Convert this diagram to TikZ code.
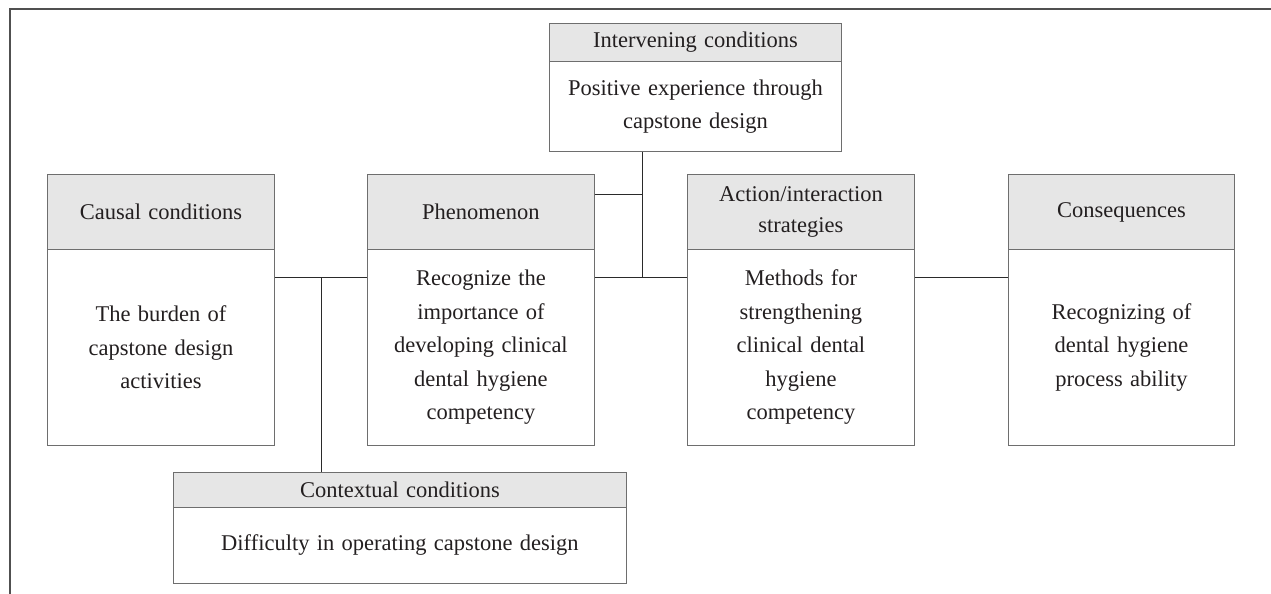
\documentclass[tikz,border=0pt]{standalone}
\usepackage{fontspec}
\setmainfont{Liberation Serif}[WordSpace=1.3]
\definecolor{boxline}{HTML}{6E6E6E}
\definecolor{headfill}{HTML}{E6E6E6}
\definecolor{linecol}{HTML}{2A2A2A}
\definecolor{framecol}{HTML}{505050}
\definecolor{txt}{HTML}{231F20}
\begin{document}
\begin{tikzpicture}[x=1pt,y=-1pt,
  head/.style={draw=boxline, fill=headfill, line width=0.9pt, anchor=north west,
    inner sep=0pt, align=center, text=txt, font=\fontsize{22.5}{31}\selectfont},
  body/.style={draw=boxline, line width=0.9pt, anchor=north west,
    inner sep=0pt, align=center, text=txt, font=\fontsize{22.5}{33.5}\selectfont},
  link/.style={draw=linecol, line width=1pt},
  frame/.style={draw=framecol, line width=1.6pt}]
\useasboundingbox (0,0) rectangle (1271,594);
% frame
\draw[frame] (10,594) -- (10,9) -- (1271,9);
% intervening
\node[head, minimum width=292pt, minimum height=38pt] (interH) at (549,23) {Intervening conditions};
\node[body, minimum width=292pt, minimum height=90pt] (interB) at (549,61) {Positive experience through\\capstone design};
% causal
\node[head, minimum width=227pt, minimum height=75pt] (causalH) at (47,174) {Causal conditions};
\node[body, minimum width=227pt, minimum height=196pt] (causalB) at (47,249) {The burden of\\capstone design\\activities};
% phenomenon
\node[head, minimum width=227pt, minimum height=75pt] (phenH) at (367,174) {Phenomenon};
\node[body, minimum width=227pt, minimum height=196pt] (phenB) at (367,249) {Recognize the\\importance of\\developing clinical\\dental hygiene\\competency};
% action
\node[head, minimum width=227pt, minimum height=75pt] (actH) at (687,174) {Action/interaction\\strategies};
\node[body, minimum width=227pt, minimum height=196pt] (actB) at (687,249) {Methods for\\strengthening\\clinical dental\\hygiene\\competency};
% consequences
\node[head, minimum width=226pt, minimum height=75pt] (consH) at (1008,174) {Consequences};
\node[body, minimum width=226pt, minimum height=196pt] (consB) at (1008,249) {Recognizing of\\dental hygiene\\process ability};
% contextual
\node[head, minimum width=453pt, minimum height=35pt] (ctxH) at (173,472) {Contextual conditions};
\node[body, minimum width=453pt, minimum height=76pt] (ctxB) at (173,507) {Difficulty in operating capstone design};
% junctions
\coordinate (j1) at (321,277);
\coordinate (j2) at (642,277);
\coordinate (j3) at (642,194);
% connectors
\draw[link] (causalB.east |- j1) -- (phenB.west |- j1);
\draw[link] (j1) -- (j1 |- ctxH.north);
\draw[link] (phenB.east |- j2) -- (actB.west |- j2);
\draw[link] (interB.south -| j2) -- (j2);
\draw[link] (phenH.east |- j3) -- (j3);
\draw[link] (actB.east |- j2) -- (consB.west |- j2);
\end{tikzpicture}
\end{document}
